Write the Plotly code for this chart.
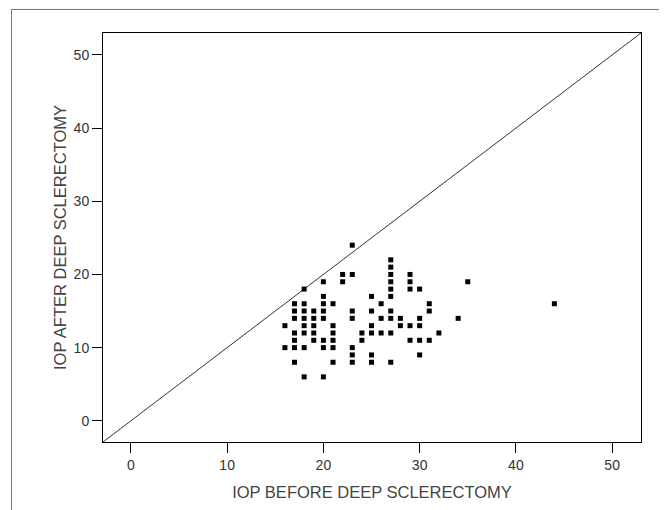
import plotly.graph_objects as go

# IOP before / after deep sclerectomy (mmHg)
iop_before = [
    23,
    22, 23, 27, 29,
    27, 27,
    20, 22, 27, 29, 35,
    18, 27, 29, 30,
    20, 25, 27,
    17, 18, 20, 21, 26, 31, 44,
    17, 18, 19, 20, 23, 25, 27, 31,
    17, 18, 19, 20, 23, 26, 27, 28, 30, 34,
    16, 18, 19, 21, 25, 28, 29, 30,
    17, 18, 19, 21, 24, 25, 26, 27, 32,
    17, 19, 20, 21, 24, 29, 30, 31,
    16, 17, 18, 20, 21, 23,
    23, 25, 30,
    17, 21, 23, 25, 27,
    18, 20,
]
iop_after = [
    24,
    20, 20, 20, 20,
    22, 21,
    19, 19, 19, 19, 19,
    18, 18, 18, 18,
    17, 17, 17,
    16, 16, 16, 16, 16, 16, 16,
    15, 15, 15, 15, 15, 15, 15, 15,
    14, 14, 14, 14, 14, 14, 14, 14, 14, 14,
    13, 13, 13, 13, 13, 13, 13, 13,
    12, 12, 12, 12, 12, 12, 12, 12, 12,
    11, 11, 11, 11, 11, 11, 11, 11,
    10, 10, 10, 10, 10, 10,
    9, 9, 9,
    8, 8, 8, 8, 8,
    6, 6,
]

axis_range = [-2.9, 53.0]
tick_values = [0, 10, 20, 30, 40, 50]
x_title = "IOP BEFORE DEEP SCLERECTOMY"
y_title = "IOP AFTER DEEP SCLERECTOMY"

fig = go.Figure()

# line of equality y = x spanning the axis range
fig.add_trace(go.Scatter(
    x=axis_range, y=axis_range, mode="lines",
    line=dict(color="#333333", width=1), hoverinfo="skip", showlegend=False,
))

fig.add_trace(go.Scatter(
    x=iop_before, y=iop_after, mode="markers",
    marker=dict(symbol="square", size=5, color="black", line=dict(width=0)),
    showlegend=False,
))

axis_common = dict(
    range=axis_range, tickvals=tick_values, ticks="outside", ticklen=10,
    tickcolor="black", tickwidth=1, showgrid=False, zeroline=False,
    showline=True, linecolor="black", linewidth=1, mirror=True,
    tickfont=dict(family="Liberation Sans, Arial, sans-serif", size=14, color="#333333"),
)

fig.update_xaxes(**axis_common,
                 title=dict(text=x_title, standoff=14,
                            font=dict(family="Liberation Sans, Arial, sans-serif", size=16.5, color="#444444")))
fig.update_yaxes(**axis_common,
                 title=dict(text=y_title, standoff=2,
                            font=dict(family="Liberation Sans, Arial, sans-serif", size=16.5, color="#444444")))

# outer frame (left and top border of the graphic)
fig.add_shape(type="line", xref="paper", yref="paper",
              x0=-0.17, x1=-0.17, y0=-0.4, y1=1.0575,
              line=dict(color="#777777", width=1))
fig.add_shape(type="line", xref="paper", yref="paper",
              x0=-0.17, x1=1.2, y0=1.0575, y1=1.0575,
              line=dict(color="#777777", width=1))

fig.update_layout(
    width=659, height=502,
    margin=dict(l=95, r=26, t=25, b=68, autoexpand=False),
    paper_bgcolor="white", plot_bgcolor="white",
)

fig.write_html("out.html")
